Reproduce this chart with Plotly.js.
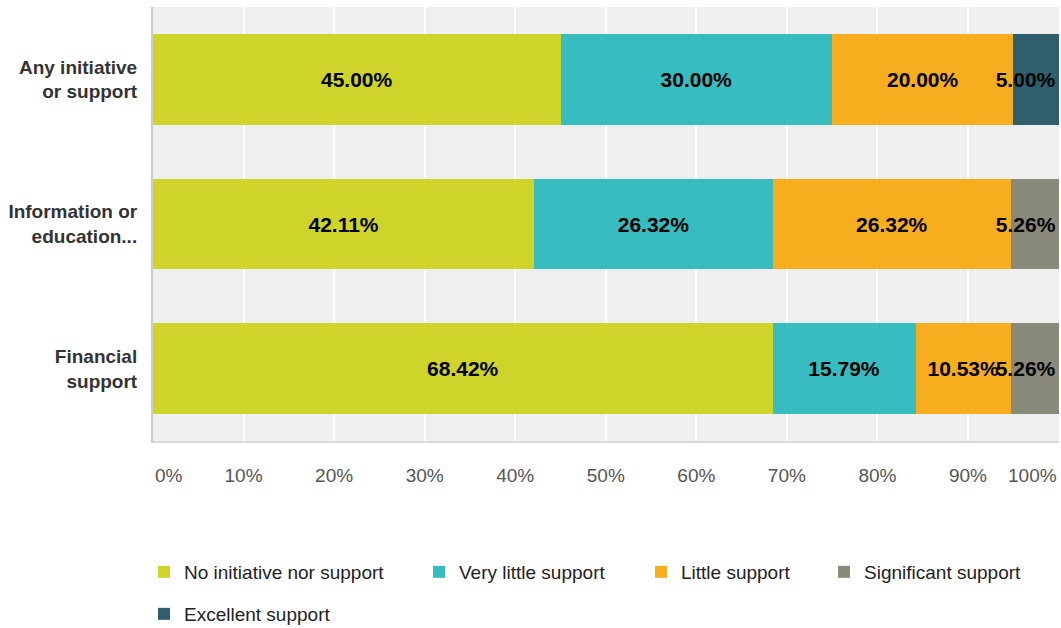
<!DOCTYPE html>
<html>
<head>
<meta charset="utf-8">
<script src="https://cdn.plot.ly/plotly-3.0.1.min.js"></script>
<style>html,body{margin:0;padding:0;background:#fff;}#chart{width:1061px;height:628px;}</style>
</head>
<body>
<div id="chart"></div>
<script>
const categories = ["Any initiative<br>or support", "Information or<br>education...", "Financial<br>support"];
const seriesNames = ["No initiative nor support", "Very little support", "Little support", "Significant support", "Excellent support"];
const noInitiative = [45.00, 42.11, 68.42];
const veryLittle = [30.00, 26.32, 15.79];
const little = [20.00, 26.32, 10.53];
const significant = [0, 5.26, 5.26];
const excellent = [5.00, 0, 0];
const xTickVals = [10, 20, 30, 40, 50, 60, 70, 80, 90];
const xTickText = ["10%", "20%", "30%", "40%", "50%", "60%", "70%", "80%", "90%"];
const xEdgeVals = [0, 100];
const xEdgeText = ["0%", "100%"];

const colors = ["#cfd42a", "#37bdbf", "#f6ae1f", "#898a7a", "#2f5f6d"];
const allValues = [noInitiative, veryLittle, little, significant, excellent];
const anchors = ["middle", "middle", "middle", "end", "end"];
const legendIds = ["legend", "legend2", "legend3", "legend4", "legend5"];
const FONT = "Arial, Liberation Sans, sans-serif";

const data = allValues.map((vals, i) => ({
  type: "bar",
  orientation: "h",
  name: seriesNames[i],
  y: categories,
  x: vals,
  text: vals.map(v => v > 0 ? v.toFixed(2) + "%" : ""),
  textposition: "inside",
  insidetextanchor: anchors[i],
  textangle: 0,
  cliponaxis: false,
  constraintext: "none",
  textfont: {family: FONT, size: 21, color: "#000", weight: "bold"},
  marker: {color: colors[i]},
  legend: legendIds[i],
  hoverinfo: "x+name"
}));

const legendFont = {family: FONT, size: 19, color: "#222"};
function lg(xpx, ypx) {
  return {xref: "container", yref: "container", x: xpx / 1061, y: 1 - ypx / 628,
    xanchor: "left", yanchor: "middle", orientation: "h", font: legendFont,
    bgcolor: "rgba(0,0,0,0)", borderwidth: 0};
}
const xTickFont = {family: FONT, size: 19, color: "#555"};

const edgeLabels = xEdgeVals.map((v, i) => ({
  x: v, xref: "x", y: 0, yref: "paper",
  xanchor: i === 0 ? "left" : "right", yanchor: "middle", yshift: -34,
  text: xEdgeText[i], showarrow: false, font: xTickFont
}));

const layout = {
  width: 1061, height: 628,
  margin: {l: 153, r: 2, t: 7, b: 187},
  paper_bgcolor: "#fff",
  plot_bgcolor: "#efefef",
  barmode: "stack",
  bargap: 0.375,
  showlegend: true,
  uniformtext: {mode: "show", minsize: 21},
  font: {family: FONT},
  xaxis: {
    range: [0, 100.05],
    tickmode: "array", tickvals: xTickVals, ticktext: xTickText,
    showgrid: true, gridcolor: "#ffffff", gridwidth: 2,
    zeroline: false,
    showline: true, linecolor: "#d9d9d9", linewidth: 2,
    ticks: "", ticklabelstandoff: 16,
    tickfont: xTickFont,
    fixedrange: true
  },
  yaxis: {
    categoryorder: "array", categoryarray: categories,
    autorange: "reversed",
    showgrid: false, zeroline: false,
    showline: true, linecolor: "#cccccc", linewidth: 2,
    ticks: "", ticklabelstandoff: 10,
    tickfont: {family: FONT, size: 19, color: "#333", weight: "bold"},
    fixedrange: true
  },
  annotations: edgeLabels,
  legend: lg(144, 572),
  legend2: lg(419, 572),
  legend3: lg(641, 572),
  legend4: lg(824, 572),
  legend5: lg(144, 614)
};

Plotly.newPlot("chart", data, layout, {displayModeBar: false, staticPlot: true});
</script>
</body>
</html>
